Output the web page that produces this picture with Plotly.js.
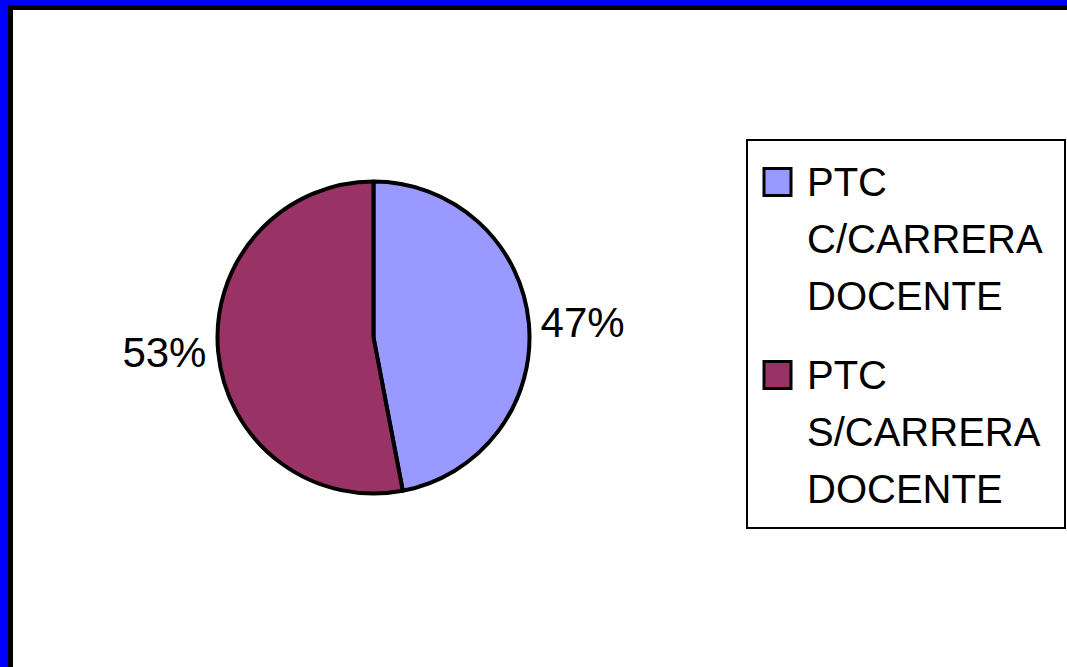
<!DOCTYPE html>
<html>
<head>
<meta charset="utf-8">
<script src="https://cdn.plot.ly/plotly-3.0.1.min.js"></script>
<style>
  html, body { margin: 0; padding: 0; background: #ffffff; }
  #chart { width: 1067px; height: 667px; }
</style>
</head>
<body>
<div id="chart"></div>
<script>
// ---- data ----
const categories = ["PTC C/CARRERA DOCENTE", "PTC S/CARRERA DOCENTE"];
const shares = [47, 53];
const sliceColors = ["#9999FF", "#993366"];

// ---- layout helpers (pixel -> paper) ----
const W = 1067, H = 667;
const px = x => x / W;
const py = y => 1 - y / H;
const FONT = "Liberation Sans, Arial, Helvetica, sans-serif";

const trace = {
  type: "pie",
  labels: categories,
  values: shares,
  sort: false,
  direction: "clockwise",
  rotation: 0,
  marker: { colors: sliceColors, line: { color: "#000000", width: 4 } },
  textinfo: "percent",
  texttemplate: "%{percent:.0%}",
  textposition: "outside",
  textfont: { family: FONT, size: 42, color: "#000000" },
  hoverinfo: "none",
  showlegend: false,
  domain: { x: [px(217.5), px(529.5)], y: [py(493.5), py(181.5)] }
};

// ---- frame shapes ----
const shapes = [
  { type: "rect", xref: "paper", yref: "paper", x0: 0, x1: px(8), y0: 0, y1: 1, fillcolor: "#0000FF", line: { width: 0 } },
  { type: "rect", xref: "paper", yref: "paper", x0: 0, x1: 1, y0: py(5), y1: 1, fillcolor: "#0000FF", line: { width: 0 } },
  { type: "rect", xref: "paper", yref: "paper", x0: px(8), x1: px(13), y0: 0, y1: py(5), fillcolor: "#000000", line: { width: 0 } },
  { type: "rect", xref: "paper", yref: "paper", x0: px(8), x1: 1, y0: py(10), y1: py(5), fillcolor: "#000000", line: { width: 0 } },
  // legend box
  { type: "rect", xref: "paper", yref: "paper", x0: px(747), x1: px(1065), y0: py(528), y1: py(140), fillcolor: "#FFFFFF", line: { color: "#000000", width: 2 } }
];

// ---- legend built from categories ----
const annotations = [];
const entryTop = [182, 375];   // centre of first line of each entry (px)
const lineStep = 57;
categories.forEach((cat, i) => {
  const yc = entryTop[i];
  shapes.push({
    type: "rect", xref: "paper", yref: "paper",
    x0: px(764), x1: px(791), y0: py(yc + 13.5), y1: py(yc - 13.5),
    fillcolor: sliceColors[i], line: { color: "#000000", width: 3 }
  });
  cat.split(" ").forEach((word, j) => {
    annotations.push({
      xref: "paper", yref: "paper", x: px(805), y: py(yc + j * lineStep),
      xanchor: "left", yanchor: "middle", showarrow: false,
      text: word, font: { family: FONT, size: 40, color: "#000000" }
    });
  });
});

const layout = {
  width: W, height: H,
  margin: { l: 0, r: 0, t: 0, b: 0 },
  paper_bgcolor: "#FFFFFF",
  showlegend: false,
  shapes: shapes,
  annotations: annotations
};

Plotly.newPlot("chart", [trace], layout, { displayModeBar: false, staticPlot: true });
</script>
</body>
</html>
